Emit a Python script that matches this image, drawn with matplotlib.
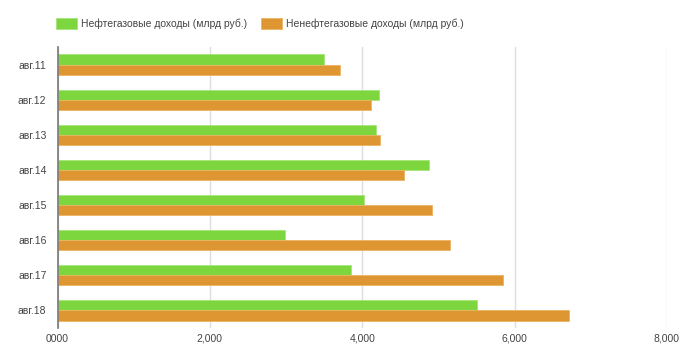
import numpy as np
import matplotlib
matplotlib.use("Agg")
import matplotlib.pyplot as plt

# data
months = ["авг.11", "авг.12", "авг.13", "авг.14", "авг.15", "авг.16", "авг.17", "авг.18"]
oil_gas = [3500, 4215, 4180, 4880, 4020, 2990, 3850, 5500]
non_oil_gas = [3705, 4118, 4236, 4547, 4918, 5147, 5846, 6716]
xticks = [0, 2000, 4000, 6000, 8000]
xtick_labels = ["0000", "2,000", "4,000", "6,000", "8,000"]
series_names = ["Нефтегазовые доходы (млрд руб.)", "Ненефтегазовые доходы (млрд руб.)"]

GREEN = "#7ed63f"
ORANGE = "#dd9632"
TEXT = "#444444"

plt.rcParams["font.family"] = ["Liberation Sans", "DejaVu Sans"]

fig = plt.figure(figsize=(7, 3.64), dpi=100)
ax = fig.add_axes([57.5 / 700, 1 - 328 / 364, (667 - 57.5) / 700, (328 - 47) / 364])

y = np.arange(len(months))
h = 0.29
ax.barh(y - h / 2, oil_gas, height=h, color=GREEN, edgecolor="#a6e67a",
        linewidth=0.6, label=series_names[0], zorder=3)
ax.barh(y + h / 2, non_oil_gas, height=h, color=ORANGE, edgecolor="#eeb463",
        linewidth=0.6, label=series_names[1], zorder=3)

ax.set_ylim(len(months) - 0.5, -0.5)
ax.set_xlim(0, 8000)
ax.set_yticks(y)
ax.set_yticklabels(months)
ax.set_xticks(xticks)
ax.set_xticklabels(xtick_labels)
ax.tick_params(axis="both", length=0, labelsize=7.5, colors=TEXT)
ax.tick_params(axis="x", pad=4)
ax.tick_params(axis="y", pad=8)

ax.grid(axis="x", color="#dddddd", linewidth=1, zorder=0)
for s in ["top", "right", "bottom"]:
    ax.spines[s].set_visible(False)
ax.spines["left"].set_color("#777777")
ax.spines["left"].set_linewidth(1.2)
ax.spines["left"].set_zorder(4)

fig.legend(loc="center left", bbox_to_anchor=(47 / 700, 1 - 23.5 / 364), ncol=2,
           frameon=False, fontsize=7.5, handlelength=2.0, handleheight=1.2,
           handletextpad=0.4, columnspacing=1.3, labelcolor=TEXT)

fig.savefig("out.png", dpi=100, facecolor="white")
